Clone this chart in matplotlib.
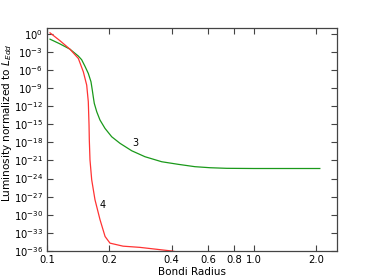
import matplotlib
matplotlib.use("Agg")
import matplotlib.pyplot as plt
from matplotlib.ticker import FixedLocator, FixedFormatter, NullLocator

# Data (x: Bondi radius, y: log10 of luminosity / L_Edd)
x3 = [0.1034, 0.115, 0.129, 0.1417, 0.147, 0.1526, 0.1583, 0.1631, 0.1655, 0.1673,
      0.1692, 0.1739, 0.1803, 0.1906, 0.2054, 0.2253, 0.2566, 0.2975, 0.3583, 0.4309,
      0.5188, 0.613, 0.738, 1.0, 2.08]
logL3 = [-0.9, -1.65, -2.55, -3.7, -4.3, -5.4, -6.57, -7.96, -9.34, -10.45,
         -11.54, -12.93, -14.30, -15.68, -17.07, -18.16, -19.39, -20.38, -21.21, -21.64,
         -22.03, -22.2, -22.3, -22.33, -22.33]

x4 = [0.1034, 0.115, 0.129, 0.1417, 0.1498, 0.1555, 0.1583, 0.1596, 0.1601, 0.1613,
      0.1644, 0.1705, 0.1803, 0.1908, 0.2015, 0.233, 0.281, 0.4, 2.08]
logL4 = [0.15, -1.1, -2.55, -4.09, -6.31, -8.51, -11.27, -15.13, -17.6, -20.9,
         -24.2, -27.5, -30.8, -33.6, -34.7, -35.2, -35.4, -36.0, -40.0]

xticks = [0.1, 0.2, 0.4, 0.6, 0.8, 1.0, 2.0]
xticklabels = ["0.1", "0.2", "0.4", "0.6", "0.8", "1.0", "2.0"]
yexps = list(range(0, -37, -3))

label3 = ("3", 0.266, -18.1)
label4 = ("4", 0.186, -28.4)

fig = plt.figure(figsize=(3.74, 2.8), dpi=100)
ax = fig.add_axes([0.1257, 0.1036, 0.7746, 0.7974])

y3 = [10.0 ** v for v in logL3]
y4 = [10.0 ** v for v in logL4]
ax.plot(x3, y3, color=(0.1, 0.6, 0.1), lw=0.9)
ax.plot(x4, y4, color=(1, 0.2, 0.2), lw=0.9)

ax.set_xscale("log")
ax.set_yscale("log")
ax.set_xlim(0.1, 2.51)
ax.set_ylim(1e-36, 1e1)

ax.xaxis.set_major_locator(FixedLocator(xticks))
ax.xaxis.set_major_formatter(FixedFormatter(xticklabels))
ax.xaxis.set_minor_locator(NullLocator())
ax.yaxis.set_major_locator(FixedLocator([10.0 ** e for e in yexps]))
ax.yaxis.set_major_formatter(FixedFormatter([r"$10^{%d}$" % e for e in yexps]))
ax.yaxis.set_minor_locator(NullLocator())

ax.tick_params(which="both", direction="in", top=True, right=True, length=4,
               width=0.8, labelsize=7.2, pad=3, color="#444444")
for s in ax.spines.values():
    s.set_color("#444444")
    s.set_linewidth(0.9)

for t, xv, lv in (label3, label4):
    ax.text(xv, 10.0 ** lv, t, fontsize=7, ha="center", va="center")

ax.set_xlabel("Bondi Radius", fontsize=7.5, labelpad=1)
ax.set_ylabel(r"Luminosity normalized to $L_{Edd}$", fontsize=7.6)
ax.yaxis.set_label_coords(-0.113, 0.575)

fig.savefig("out.png", dpi=100)
